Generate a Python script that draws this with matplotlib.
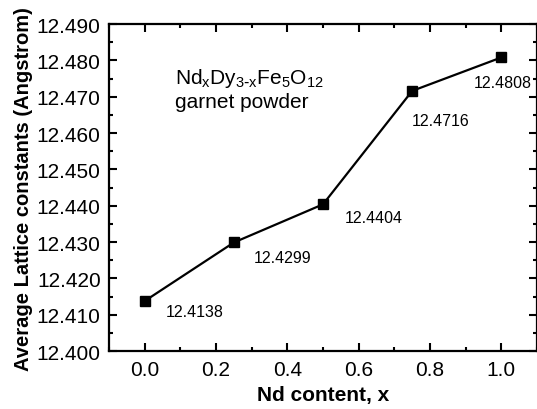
import matplotlib
matplotlib.use('Agg')
import matplotlib.pyplot as plt
from matplotlib.ticker import MultipleLocator, FormatStrFormatter

# data
nd_content = [0.0, 0.25, 0.5, 0.75, 1.0]
lattice = [12.4138, 12.4299, 12.4404, 12.4716, 12.4808]
point_labels = ['12.4138', '12.4299', '12.4404', '12.4716', '12.4808']
# label offsets in pixels (dx, dy) and horizontal alignment
label_offsets = [(21, -10), (20, -15), (22, -13), (0, -30), (1, -25)]
label_ha = ['left', 'left', 'left', 'left', 'center']

plt.rcParams['font.family'] = ['Liberation Sans', 'DejaVu Sans']
plt.rcParams['mathtext.default'] = 'regular'

fig = plt.figure(figsize=(5.37, 4.10), dpi=100)
ax = fig.add_axes([0.203, 0.141, 0.797, 0.798])

ax.plot(nd_content, lattice, color='k', linewidth=1.6, marker='s', markersize=7)

for x, y, s, off, ha in zip(nd_content, lattice, point_labels, label_offsets, label_ha):
    ax.annotate(s, (x, y), xytext=off, textcoords='offset pixels',
                ha=ha, va='center', fontsize=11.5)

ax.text(0.084, 12.4754, r'Nd$_{x}$Dy$_{3\text{-}x}$Fe$_{5}$O$_{12}$', fontsize=15, va='center')
ax.text(0.084, 12.4688, 'garnet powder', fontsize=15, va='center')

ax.set_xlim(-0.1, 1.1)
ax.set_ylim(12.400, 12.490)
ax.xaxis.set_major_locator(MultipleLocator(0.2))
ax.xaxis.set_minor_locator(MultipleLocator(0.1))
ax.yaxis.set_major_locator(MultipleLocator(0.010))
ax.yaxis.set_minor_locator(MultipleLocator(0.005))
ax.yaxis.set_major_formatter(FormatStrFormatter('%.3f'))
ax.xaxis.set_major_formatter(FormatStrFormatter('%.1f'))

ax.tick_params(which='both', direction='in', top=True, right=True, width=1.5)
ax.tick_params(which='major', length=6, labelsize=15, pad=6)
ax.tick_params(which='minor', length=3)
for sp in ax.spines.values():
    sp.set_linewidth(1.6)

ax.set_xlabel('Nd content, x', fontsize=15, fontweight='bold', labelpad=5)
ax.set_ylabel('Average Lattice constants (Angstrom)', fontsize=14.5, fontweight='bold', labelpad=3)

fig.savefig('out.png', dpi=100)
